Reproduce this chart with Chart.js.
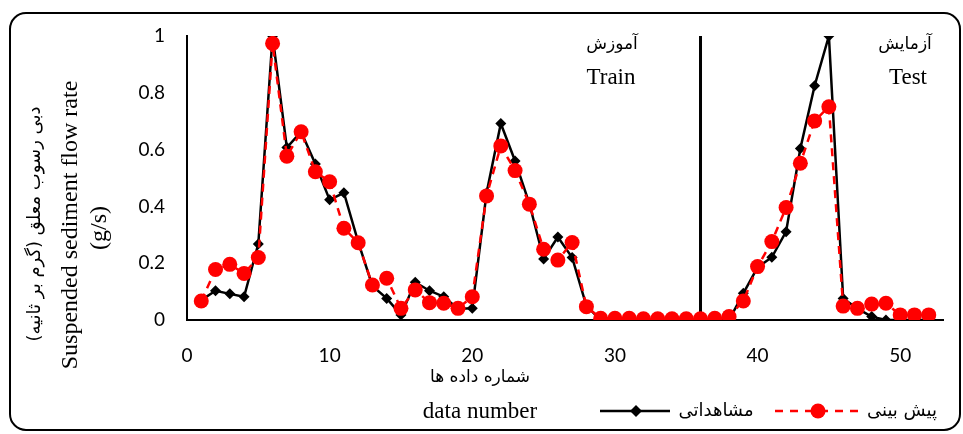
<!DOCTYPE html>
<html lang="fa">
<head>
<meta charset="UTF-8">
<title>Suspended sediment flow rate</title>
<script src="https://cdn.jsdelivr.net/npm/chart.js"></script>
<style>
  html, body { margin: 0; padding: 0; background: #fff; }
  #wrap { width: 963px; height: 434px; }
</style>
</head>
<body>
<div id="wrap"><canvas id="sedChart" width="963" height="434"></canvas></div>
<script>
// شماره داده ها (data number)
const dataNumber = [1, 2, 3, 4, 5, 6, 7, 8, 9, 10, 11, 12, 13, 14, 15, 16, 17, 18, 19, 20, 21, 22, 23, 24, 25, 26,
                    27, 28, 29, 30, 31, 32, 33, 34, 35, 36, 37, 38, 39, 40, 41, 42, 43, 44, 45, 46, 47, 48, 49, 50, 51, 52];
// مشاهداتی (observed)
const observed = [0.07, 0.103, 0.092, 0.082, 0.268, 1.0, 0.607, 0.663, 0.549, 0.423, 0.448, 0.275, 0.12,
                  0.076, 0.018, 0.133, 0.103, 0.082, 0.04, 0.041, 0.447, 0.692, 0.56, 0.41, 0.215, 0.292,
                  0.22, 0.05, 0, 0, 0, 0, 0, 0, 0, 0, 0, 0, 0.094, 0.185, 0.221, 0.311,
                  0.604, 0.825, 1.0, 0.076, 0.04, 0.012, 0, 0, 0, 0];
// پیش بینی (predicted)
const predicted = [0.067, 0.178, 0.196, 0.164, 0.22, 0.974, 0.577, 0.663, 0.522, 0.487, 0.323, 0.272, 0.123,
                   0.147, 0.041, 0.106, 0.061, 0.059, 0.041, 0.082, 0.437, 0.613, 0.526, 0.408, 0.249, 0.211,
                   0.273, 0.047, 0.006, 0.006, 0.006, 0.004, 0.004, 0.004, 0.004, 0.004, 0.006, 0.012, 0.067, 0.188, 0.276, 0.396,
                   0.552, 0.701, 0.751, 0.049, 0.041, 0.056, 0.059, 0.018, 0.018, 0.018];
// train / test split
const splitAt = [36, 36];
const splitY = [0, 1];
const xTicks = [0, 10, 20, 30, 40, 50];
const yTicks = [0, 0.2, 0.4, 0.6, 0.8, 1];

const serif = '"Liberation Serif", "Times New Roman", serif';
const fa = '"DejaVu Sans", sans-serif';

// titles, annotations, legend and frame drawn on the canvas
const decor = {
  id: 'decor',
  afterDraw(chart) {
    const c = chart.ctx;
    c.save();
    c.fillStyle = '#000';
    c.textAlign = 'center';
    c.textBaseline = 'middle';

    // y title (rotated)
    c.save();
    c.translate(35, 224);
    c.rotate(-Math.PI / 2);
    c.font = '18px ' + fa;
    c.fillText('دبی رسوب معلق (گرم بر ثانیه)', 0, 0);
    c.restore();
    c.save();
    c.translate(71, 225);
    c.rotate(-Math.PI / 2);
    c.font = '24px ' + serif;
    c.fillText('Suspended sediment flow rate', 0, 0);
    c.restore();
    c.save();
    c.translate(100, 228);
    c.rotate(-Math.PI / 2);
    c.font = '24px ' + serif;
    c.fillText('(g/s)', 0, 0);
    c.restore();

    // x title
    c.font = '17px ' + fa;
    c.fillText('شماره داده ها', 480, 378);
    c.font = '23px ' + serif;
    c.fillText('data number', 480, 412);

    // train / test labels
    c.font = '17px ' + fa;
    c.fillText('آموزش', 612, 45);
    c.fillText('آزمایش', 905, 45);
    c.font = '23px ' + serif;
    c.fillText('Train', 611, 78);
    c.fillText('Test', 908, 78);

    // legend
    const ly = 411;
    c.strokeStyle = '#000';
    c.lineWidth = 2.5;
    c.beginPath(); c.moveTo(600, ly); c.lineTo(670, ly); c.stroke();
    c.beginPath();
    c.moveTo(636, ly - 6); c.lineTo(642, ly); c.lineTo(636, ly + 6); c.lineTo(630, ly); c.closePath();
    c.fill();
    c.font = '18px ' + fa;
    c.fillText('مشاهداتی', 716, ly);

    c.strokeStyle = '#ff0000';
    c.fillStyle = '#ff0000';
    c.setLineDash([8, 7]);
    c.beginPath(); c.moveTo(775, ly); c.lineTo(862, ly); c.stroke();
    c.setLineDash([]);
    c.beginPath(); c.arc(818, ly, 7.5, 0, Math.PI * 2); c.fill();
    c.fillStyle = '#000';
    c.fillText('پیش بینی', 902, ly);

    // rounded frame
    c.strokeStyle = '#000';
    c.lineWidth = 2;
    c.beginPath();
    c.roundRect(10, 13, 950, 417, 16);
    c.stroke();
    c.restore();
  }
};

new Chart(document.getElementById('sedChart'), {
  type: 'line',
  data: {
    datasets: [
      {
        label: 'پیش بینی',
        data: dataNumber.map((x, i) => ({ x: x, y: predicted[i] })),
        borderColor: '#ff0000',
        backgroundColor: '#ff0000',
        borderWidth: 2.5,
        borderDash: [8, 6],
        pointStyle: 'circle',
        pointRadius: 7.5,
        pointBorderWidth: 0,
        tension: 0
      },
      {
        label: 'مشاهداتی',
        data: dataNumber.map((x, i) => ({ x: x, y: observed[i] })),
        borderColor: '#000',
        backgroundColor: '#000',
        borderWidth: 2.5,
        pointStyle: 'rectRot',
        pointRadius: 5.5,
        pointBorderWidth: 0,
        tension: 0
      },
      {
        label: 'split',
        data: splitAt.map((x, i) => ({ x: x, y: splitY[i] })),
        borderColor: '#000',
        borderWidth: 3,
        pointRadius: 0
      }
    ]
  },
  options: {
    responsive: false,
    animation: false,
    layout: { padding: { top: 36, right: 20, left: 0, bottom: 0 } },
    plugins: { legend: { display: false }, tooltip: { enabled: false } },
    scales: {
      x: {
        type: 'linear',
        min: 0,
        max: 53,
        grid: { display: false, drawTicks: false },
        border: { display: true, color: '#000', width: 2 },
        afterBuildTicks: s => { s.ticks = xTicks.map(v => ({ value: v })); },
        afterFit: s => { s.height = 114; },
        ticks: { color: '#000', padding: 24, font: { family: 'Lato', size: 19 } }
      },
      y: {
        min: 0,
        max: 1,
        grid: { display: false, drawTicks: false },
        border: { display: true, color: '#000', width: 2 },
        afterBuildTicks: s => { s.ticks = yTicks.map(v => ({ value: v })); },
        afterFit: s => { s.width = 187; },
        ticks: { color: '#000', padding: 22, font: { family: 'Lato', size: 19 }, callback: v => String(v) }
      }
    }
  },
  plugins: [decor]
});
</script>
</body>
</html>
